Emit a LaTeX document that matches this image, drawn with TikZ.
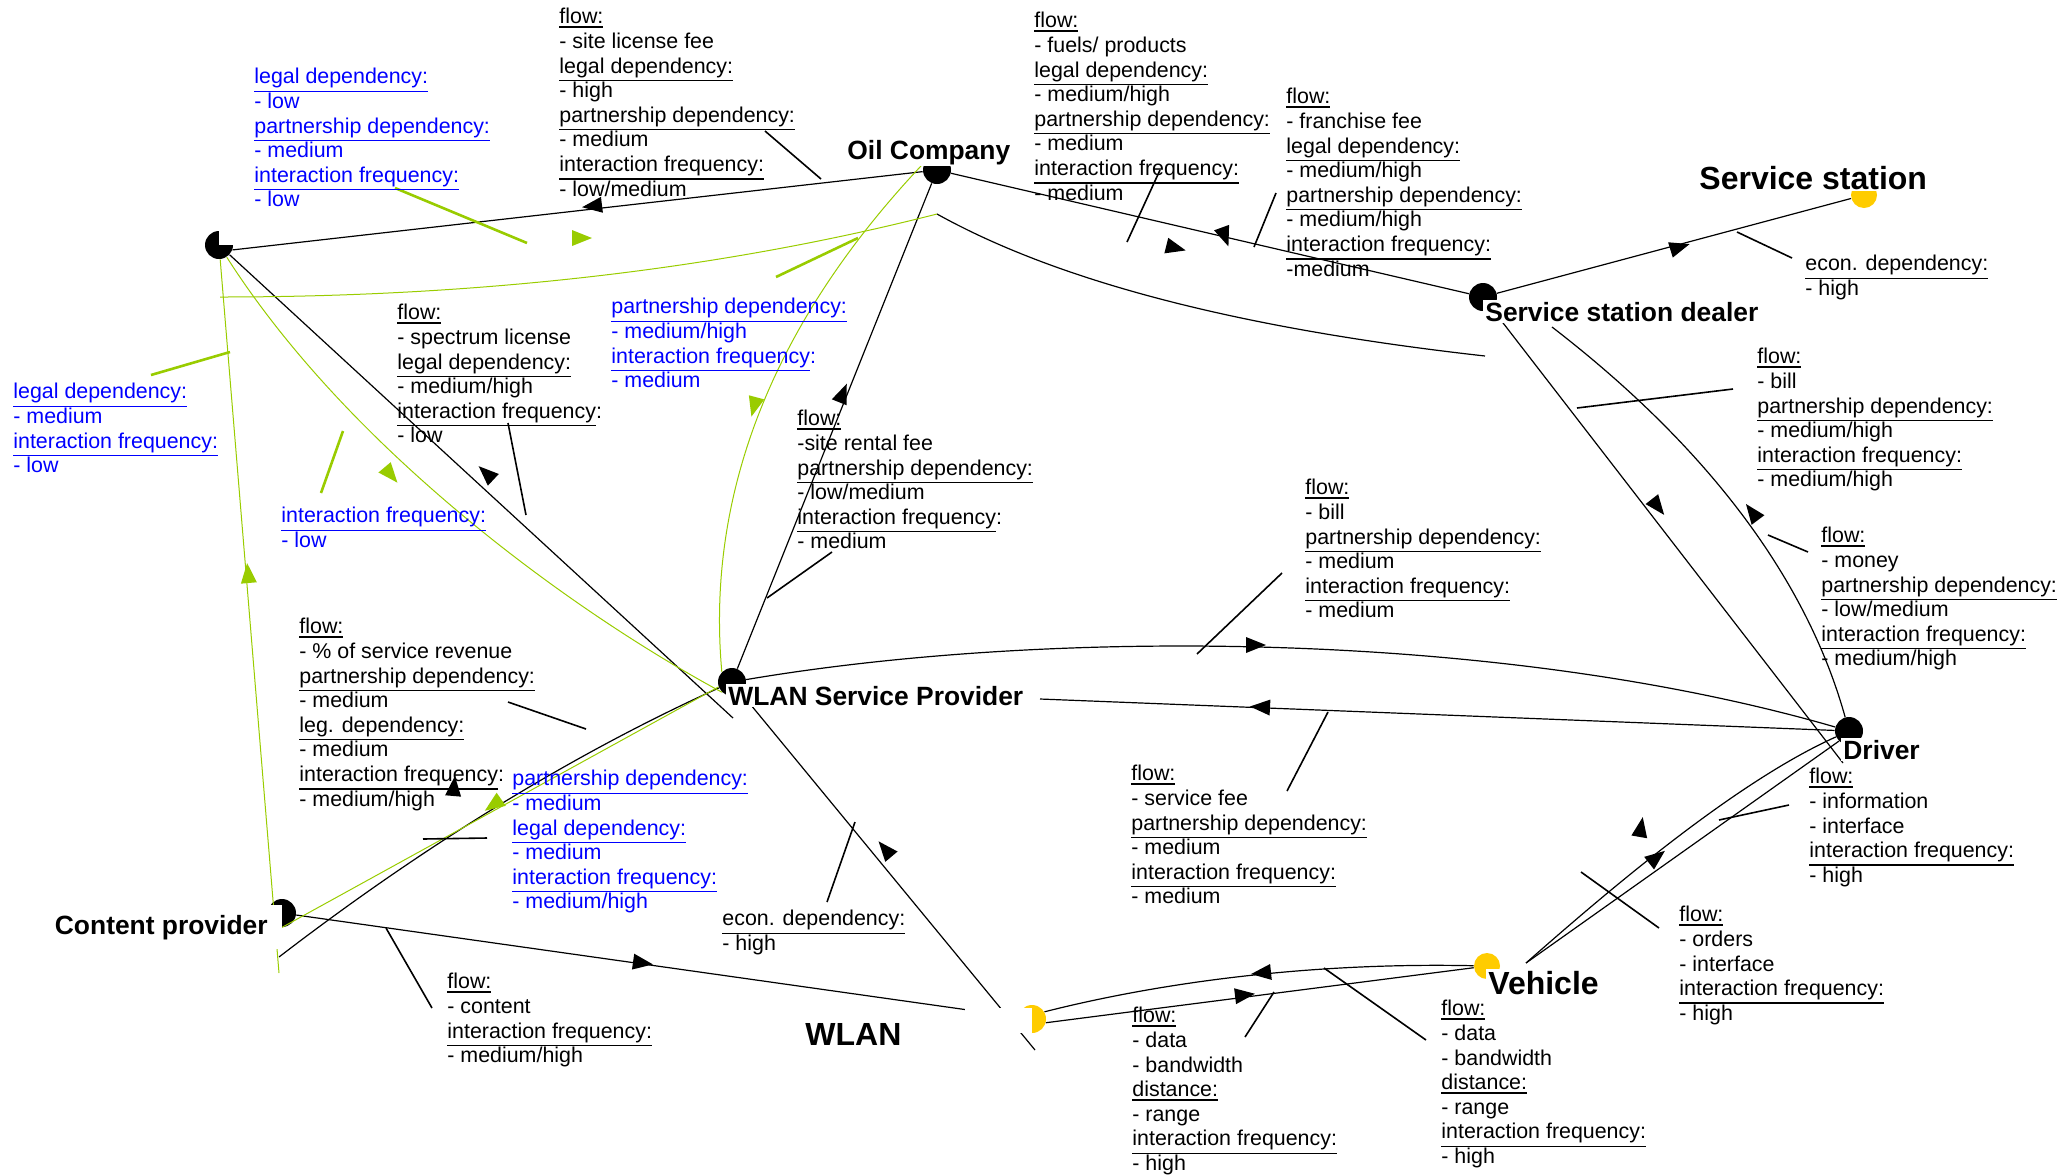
\documentclass[tikz,border=0pt]{standalone}
\usepackage{fontspec}
\setmainfont{Liberation Sans}
\definecolor{linkgreen}{RGB}{153,204,0}
\definecolor{textblue}{RGB}{0,0,255}
\definecolor{placeyellow}{RGB}{255,204,0}
\newcommand{\attr}[1]{\leavevmode\vtop{\hbox{#1}\kern1.1pt\hrule height0.75pt}}
\tikzset{
  party/.style={circle, fill=black, minimum size=14pt, inner sep=0pt},
  place/.style={party, fill=placeyellow, minimum size=13pt},
  lbl/.style={fill=white, inner sep=1pt, anchor=base west, font=\fontsize{13.2}{15}\selectfont\bfseries},
  biglbl/.style={lbl, font=\fontsize{16}{18}\selectfont\bfseries},
  note/.style={anchor=north west, align=left, inner sep=0pt, font=\fontsize{10.7}{12.3}\selectfont},
  bluenote/.style={note, text=textblue},
  link/.style={line width=0.6pt},
  glink/.style={linkgreen, line width=0.5pt},
  lead/.style={line width=0.8pt},
  glead/.style={linkgreen, line width=1.3pt},
  head/.pic={\fill (10,0) -- (-10,-8) -- (-10,8) -- cycle;}
}

\begin{document}
\begin{tikzpicture}[x=0.5pt, y=-0.5pt]
\useasboundingbox (0,0) rectangle (2062,1174);

\node[party] (anon) at (219,245) {};
\node[party] (oil) at (937,170) {};
\node[place] (station) at (1864,195) {};
\node[party] (dealer) at (1483,297) {};
\node[party] (wsp) at (732,682) {};
\node[party] (driver) at (1849,731) {};
\node[party] (content) at (282,913) {};
\node[place, minimum size=14pt] (wlan) at (1032,1019) {};
\node[place] (vehicle) at (1487,966) {};

\coordinate (anonfoot) at (220,297);
\coordinate (oilfoot) at (937,214);
\coordinate (dealerfoot) at (1485,356);
\coordinate (dealerside) at (1552,327);
\coordinate (driverfoot) at (1843,763);
\coordinate (wsptail) at (733,718);
\coordinate (wspright) at (1040,699);
\coordinate (contentfoot) at (279,973);
\coordinate (contenttail) at (279,957);
\coordinate (wlanfoot) at (1035,1050);
\coordinate (vehicletop) at (1526,963);

\draw[link] (anon.-20) -- (oil);
\draw[link] (anon) -- (wsptail);
\draw[link] (oil) -- (wsp);
\draw[link] (oil) -- (dealer);
\draw[link] (oilfoot) .. controls (1061,283) and (1244,329) .. (dealerfoot);
\draw[link] (dealer) -- (station);
\draw[link] (dealer) -- (driverfoot);
\draw[link] (dealerside) .. controls (1709,448) and (1807,580) .. (driver);
\draw[link] (wsp) .. controls (1050,628) and (1500,630) .. (driver);
\draw[link] (driver) -- (wspright);
\draw[link] (vehicletop) .. controls (1620,880) and (1740,780) .. (driver);
\draw[link] (vehicletop) -- (driver.south west);
\draw[link] (wsp) .. controls (597,743) and (447,828) .. (contenttail);
\draw[link] (content) -- (wlan);
\draw[link] (wsp) -- (wlanfoot);
\draw[link] (wlan.30) .. controls (1150,985) and (1300,962) .. (vehicle);
\draw[link] (wlan.-15) -- (vehicle);

\draw[glink] (anon) .. controls (346,444) and (561,605) .. (wsp.south west);
\draw[glink] (anon) -- (contentfoot);
\draw[glink] (anonfoot) .. controls (486,297) and (725,268) .. (oilfoot);
\draw[glink] (oil.north west) .. controls (770,324) and (706,497) .. (wsp.north west);
\draw[glink] (wsp.-160) -- (content.south);

\foreach \xa/\ya/\xb/\yb in {765/131/821/179, 1160/170/1127/242, 1276/193/1254/247,
  1737/232/1792/258, 1577/408/1733/389, 1768/535/1808/552, 1282/573/1197/654,
  832/552/767/598, 508/423/526/515, 508/702/586/729, 423/839/487/838,
  386/928/432/1008, 855/822/827/902, 1328/712/1287/791, 1274/992/1245/1037,
  1324/968/1426/1040, 1581/872/1659/928, 1789/805/1719/820}
  \draw[lead] (\xa,\ya) -- (\xb,\yb);
\foreach \xa/\ya/\xb/\yb in {395/188/527/243, 776/277/858/238, 151/375/230/352, 343/431/321/493}
  \draw[glead] (\xa,\ya) -- (\xb,\yb);

\foreach \x/\y/\a in {592/206/187, 486/473/137, 843/393/68, 1176/248/-14, 1225/237/-70,
  1680/247/17, 1658/507/-52, 1752/512/127, 1256/645/0, 1260/707/177, 1657/857/38,
  1641/827/80, 454/786/85, 643/963/-8, 885/849/130, 1261/973/186, 1245/995/7}
  \pic[rotate=\a] at (\x,\y) {head};
\foreach \x/\y/\a in {582/238/0, 391/475/-50, 248/573/95, 754/407/255, 493/805/215}
  \pic[linkgreen, rotate=\a] at (\x,\y) {head};

\fill[white] (anon.center) rectangle ([xshift=8pt, yshift=8pt]anon.center);
\fill[white] (965,1008) rectangle (wlan.south);

\node[lbl] (oilname) at (845,159) {Oil Company};
\node[biglbl] (stationname) at (1697,189) {Service station};
\node[lbl] (dealername) at (1483,321) {Service station dealer};
\node[lbl] (wspname) at (726,705) {WLAN Service Provider};
\node[lbl] (drivername) at (1841,759) {Driver};
\node[lbl, anchor=base east, inner xsep=7pt, inner ysep=5pt] (contentname) at (282,934) {Content provider};
\node[biglbl, fill=none] (wlanname) at (803,1045) {WLAN};
\node[biglbl] (vehiclename) at (1486,994) {Vehicle};

\node[note] (sitefee) at (559,8) {\attr{flow:}\\- site license fee\\\attr{legal dependency:}\\- high\\\attr{partnership dependency:}\\- medium\\\attr{interaction frequency:}\\- low/medium};
\node[bluenote] (anonoil) at (254,68) {\attr{legal dependency:}\\- low\\\attr{partnership dependency:}\\- medium\\\attr{interaction frequency:}\\- low};
\node[note] (fuels) at (1034,12) {\attr{flow:}\\- fuels/ products\\\attr{legal dependency:}\\- medium/high\\\attr{partnership dependency:}\\- medium\\\attr{interaction frequency:}\\- medium};
\node[note] (franchise) at (1286,88) {\attr{flow:}\\- franchise fee\\\attr{legal dependency:}\\- medium/high\\\attr{partnership dependency:}\\- medium/high\\\attr{interaction frequency:}\\-medium};
\node[note] (stationdep) at (1805,255) {\attr{econ. dependency:}\\- high};
\node[note] (dealerbill) at (1757,348) {\attr{flow:}\\- bill\\\attr{partnership dependency:}\\- medium/high\\\attr{interaction frequency:}\\- medium/high};
\node[note] (money) at (1821,527) {\attr{flow:}\\- money\\\attr{partnership dependency:}\\- low/medium\\\attr{interaction frequency:}\\- medium/high};
\node[note] (wspbill) at (1305,479) {\attr{flow:}\\- bill\\\attr{partnership dependency:}\\- medium\\\attr{interaction frequency:}\\- medium};
\node[bluenote] (oilwsp) at (611,298) {\attr{partnership dependency:}\\- medium/high\\\attr{interaction frequency}:\\- medium};
\node[note] (rental) at (797,410) {\attr{flow:}\\-site rental fee\\\attr{partnership dependency:}\\- low/medium\\\attr{interaction frequency}:\\- medium};
\node[note] (spectrum) at (397,304) {\attr{flow:}\\- spectrum license\\\attr{legal dependency:}\\- medium/high\\\attr{interaction frequency}:\\- low};
\node[bluenote] (anoncontent) at (13,383) {\attr{legal dependency:}\\- medium\\\attr{interaction frequency:}\\- low};
\node[bluenote] (anonwsp) at (281,507) {\attr{interaction frequency:}\\- low};
\node[note] (revenue) at (299,618) {\attr{flow:}\\- \% of service revenue\\\attr{partnership dependency:}\\- medium\\\attr{leg. dependency:}\\- medium\\\attr{interaction frequency}:\\- medium/high};
\node[bluenote] (wspcontent) at (512,770) {\attr{partnership dependency:}\\- medium\\\attr{legal dependency:}\\- medium\\\attr{interaction frequency:}\\- medium/high};
\node[note] (contentflow) at (447,973) {\attr{flow:}\\- content\\\attr{interaction frequency:}\\- medium/high};
\node[note] (wlandep) at (722,910) {\attr{econ. dependency:}\\- high};
\node[note] (servicefee) at (1131,765) {\attr{flow:}\\- service fee\\\attr{partnership dependency:}\\- medium\\\attr{interaction frequency:}\\- medium};
\node[note] (wlandata) at (1132,1007) {\attr{flow:}\\- data\\- bandwidth\\\attr{distance:}\\- range\\\attr{interaction frequency:}\\- high};
\node[note] (vehicledata) at (1441,1000) {\attr{flow:}\\- data\\- bandwidth\\\attr{distance:}\\- range\\\attr{interaction frequency:}\\- high};
\node[note] (orders) at (1679,906) {\attr{flow:}\\- orders\\- interface\\\attr{interaction frequency:}\\- high};
\node[note] (information) at (1809,768) {\attr{flow:}\\- information\\- interface\\\attr{interaction frequency:}\\- high};
\end{tikzpicture}
\end{document}
